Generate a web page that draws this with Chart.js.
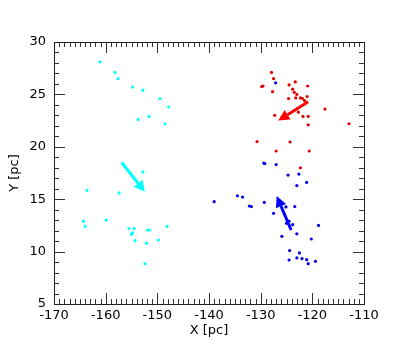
<!DOCTYPE html>
<html>
<head>
<meta charset="utf-8">
<script src="https://cdn.jsdelivr.net/npm/chart.js@4/dist/chart.umd.min.js"></script>
<style>
  html, body { margin: 0; padding: 0; background: #fff; }
  #wrap { width: 395px; height: 351px; }
</style>
</head>
<body>
<div id="wrap"><canvas id="chart" width="395" height="351"></canvas></div>
<script>
// punkter aflaest fra billedet (X, Y i pc)
const cyanX = [-161.1, -158.2, -157.6, -154.8, -152.8, -149.5, -147.8, -151.6, -153.7, -148.5, -152.8,
  -163.6, -157.4, -159.9, -164.3, -164.0, -155.5, -154.5, -154.8, -155.0, -151.9, -151.5, -148.1,
  -154.3, -152.1, -149.8, -152.4];
const cyanY = [28.1, 27.1, 26.5, 25.7, 25.4, 24.6, 23.8, 22.9, 22.6, 22.2, 17.6,
  15.85, 15.6, 13.0, 12.9, 12.4, 12.2, 12.2, 11.8, 11.65, 12.06, 12.06, 12.4,
  11.04, 10.8, 11.1, 8.85];

const redX = [-127.9, -127.5, -129.55, -129.8, -127.7, -124.5, -123.3, -120.9, -123.8, -123.5, -123.0,
  -121.0, -124.6, -123.2, -122.3, -121.9, -121.5, -117.55, -122.7, -121.8, -120.8, -127.3, -120.8,
  -112.9, -130.7, -124.3, -127.0, -120.6, -122.3];
const redY = [27.1, 26.5, 25.8, 25.75, 25.26, 25.9, 26.2, 25.8, 25.5, 25.2, 25.0,
  24.8, 24.6, 24.66, 24.66, 24.6, 24.4, 23.6, 23.3, 22.9, 22.9, 23.0, 22.1,
  22.2, 20.5, 20.46, 19.6, 19.6, 18.0];

const blueX = [-127.1, -129.4, -129.2, -127.0, -124.7, -122.6, -123.0, -121.1, -134.5, -133.5, -139.0,
  -132.2, -131.8, -129.3, -127.5, -125.1, -123.4, -124.5, -125.0, -123.8, -118.8, -123.0, -125.9,
  -120.2, -124.4, -122.5, -124.5, -123.0, -122.0, -121.1, -120.8, -119.4];
const blueY = [26.1, 18.45, 18.4, 18.3, 17.3, 17.4, 16.3, 16.6, 15.33, 15.2, 14.76,
  14.35, 14.3, 14.7, 13.65, 14.26, 14.3, 12.9, 12.7, 12.57, 12.5, 11.7, 11.46,
  11.2, 10.1, 9.87, 9.2, 9.4, 9.33, 9.23, 8.85, 9.07];

// pile: [startX, startY, slutX, slutY]
const cyanArrow = [-156.9, 18.5, -152.4, 15.7];
const redArrow = [-120.8, 24.3, -126.6, 22.5];
const blueArrow = [-124.1, 12.06, -126.9, 15.3];

const xTicks = [-170, -160, -150, -140, -130, -120, -110];
const yTicks = [5, 10, 15, 20, 25, 30];

function toPoints(xs, ys) {
  return xs.map((x, i) => ({x: x, y: ys[i]}));
}

const arrows = [
  {a: cyanArrow, color: '#00ffff'},
  {a: redArrow, color: '#ff0000'},
  {a: blueArrow, color: '#0000ff'}
];

// ramme, indadvendte ticks og pile
const framePlugin = {
  id: 'frame',
  afterDatasetsDraw(chart) {
    const ctx = chart.ctx;
    const xs = chart.scales.x, ys = chart.scales.y;
    const area = chart.chartArea;
    ctx.save();

    arrows.forEach(ar => {
      const x0 = xs.getPixelForValue(ar.a[0]), y0 = ys.getPixelForValue(ar.a[1]);
      const x1 = xs.getPixelForValue(ar.a[2]), y1 = ys.getPixelForValue(ar.a[3]);
      const ang = Math.atan2(y1 - y0, x1 - x0);
      const head = 11, half = 5.5;
      const bx = x1 - head * Math.cos(ang), by = y1 - head * Math.sin(ang);
      ctx.strokeStyle = ar.color;
      ctx.fillStyle = ar.color;
      ctx.lineWidth = 3;
      ctx.beginPath();
      ctx.moveTo(x0, y0);
      ctx.lineTo(bx, by);
      ctx.stroke();
      ctx.beginPath();
      ctx.moveTo(x1, y1);
      ctx.lineTo(bx + half * Math.sin(ang), by - half * Math.cos(ang));
      ctx.lineTo(bx - half * Math.sin(ang), by + half * Math.cos(ang));
      ctx.closePath();
      ctx.fill();
    });

    ctx.strokeStyle = '#333';
    ctx.lineWidth = 1;
    ctx.beginPath();
    for (let v = -170; v <= -110; v++) {
      const len = (v % 10 === 0) ? 11 : 5;
      const px = Math.round(xs.getPixelForValue(v)) + 0.5;
      ctx.moveTo(px, area.bottom); ctx.lineTo(px, area.bottom - len);
      ctx.moveTo(px, area.top); ctx.lineTo(px, area.top + len);
    }
    for (let v = 5; v <= 30; v++) {
      const len = (v % 5 === 0) ? 11 : 5;
      const py = Math.round(ys.getPixelForValue(v)) + 0.5;
      ctx.moveTo(area.left, py); ctx.lineTo(area.left + len, py);
      ctx.moveTo(area.right, py); ctx.lineTo(area.right - len, py);
    }
    ctx.stroke();
    ctx.strokeStyle = '#222';
    ctx.strokeRect(Math.round(area.left) + 0.5, Math.round(area.top) + 0.5,
      Math.round(area.right - area.left), Math.round(area.bottom - area.top));
    ctx.restore();
  }
};

const font = {family: 'DejaVu Sans', size: 13};

let chart = new Chart(document.getElementById('chart').getContext('2d'), {
  type: 'scatter',
  data: {
    datasets: [
      {data: toPoints(cyanX, cyanY), backgroundColor: '#00ffff', borderWidth: 0, pointRadius: 1.6},
      {data: toPoints(redX, redY), backgroundColor: '#e00000', borderWidth: 0, pointRadius: 1.6},
      {data: toPoints(blueX, blueY), backgroundColor: '#0000e0', borderWidth: 0, pointRadius: 1.6}
    ]
  },
  options: {
    responsive: false,
    animation: false,
    events: [],
    layout: {padding: {top: 42, right: 31, left: 0, bottom: 0}},
    plugins: {legend: {display: false}, tooltip: {enabled: false}},
    scales: {
      x: {
        type: 'linear', min: -170, max: -110,
        afterBuildTicks: s => { s.ticks = xTicks.map(v => ({value: v})); },
        afterFit: s => { s.height = 47; },
        grid: {display: false, drawTicks: false},
        border: {display: false},
        ticks: {color: '#000', font: font, padding: 4, maxRotation: 0},
        title: {display: true, text: 'X [pc]', color: '#000', font: font, padding: {top: 0, bottom: 13}}
      },
      y: {
        type: 'linear', min: 5, max: 30,
        afterBuildTicks: s => { s.ticks = yTicks.map(v => ({value: v})); },
        afterFit: s => { s.width = 54; },
        grid: {display: false, drawTicks: false},
        border: {display: false},
        ticks: {color: '#000', font: font, padding: 8},
        title: {display: true, text: 'Y [pc]', color: '#000', font: font, padding: {top: 7, bottom: 0}}
      }
    }
  },
  plugins: [framePlugin]
});
</script>
</body>
</html>
